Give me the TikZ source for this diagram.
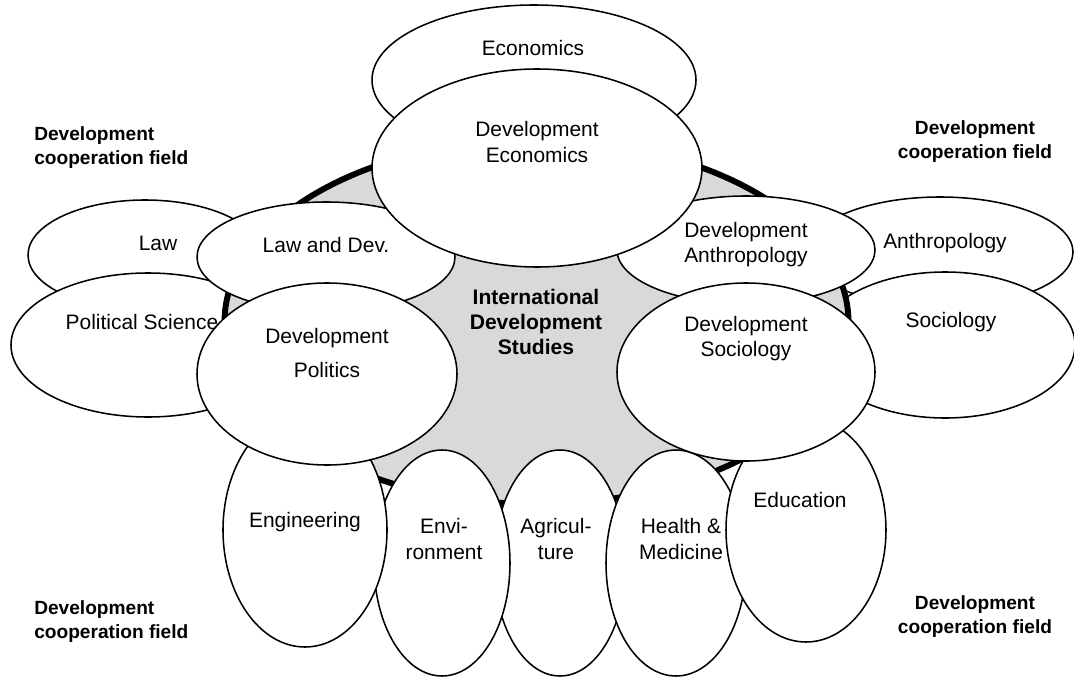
\documentclass[tikz,border=0pt]{standalone}
\usepackage{fontspec}
\setmainfont{Liberation Sans}
\tikzset{field/.style={draw=black, line width=1.1pt, fill=white}}
\tikzset{core/.style={draw=black, line width=4.2pt, fill=gray!30}}
\tikzset{lbl/.style={align=center, inner sep=0pt, font=\fontsize{14.9}{17.8}\selectfont}}
\tikzset{side/.style={align=center, inner sep=0pt, font=\bfseries\fontsize{13.6}{17}\selectfont}}

\begin{document}
\begin{tikzpicture}[x=0.025cm, y=-0.025cm]
\useasboundingbox (0,0) rectangle (1074,677);

% outer ring: the parent disciplines
\foreach \cx/\cy/\rx/\ry in {534/80/162/75, 145/255/117/55, 148/345/137/72, 940/252/133/55, 945/345/130/73}{
  \draw[field] (\cx,\cy) ellipse [x radius=\rx, y radius=\ry];
}

\draw[core] (536.5,322) ellipse [x radius=312, y radius=182];

% lower fields
\foreach \cx/\cy/\rx/\ry in {560/563/66/113, 442/563/68/113, 676/563/70/113, 806/530/80/112, 305/530/82/117}{
  \draw[field] (\cx,\cy) ellipse [x radius=\rx, y radius=\ry];
}

% development sub-disciplines
\foreach \cx/\cy/\rx/\ry in {326/257/129/55, 746/250/129/54, 537/168/165/99, 327/374/130/91, 746/372/129/89}{
  \draw[field] (\cx,\cy) ellipse [x radius=\rx, y radius=\ry];
}

\node[lbl] (econ) at (533,48) {Economics};
\node[lbl] (law) at (158,243) {Law};
\node[lbl] (polsci) at (142,322) {Political Science};
\node[lbl] (anthro) at (945,243) {Anthropology};
\node[lbl] (socio) at (951,322) {Sociology};

\node[lbl] (lawdev) at (326,245) {Law and Dev.};
\node[lbl] (devecon) at (537,142) {Development\\Economics};
\node[lbl] (devanthro) at (746,245) {Development\\Anthropology};
\node[lbl] (devpol) at (327,353) {Development\\[5.7pt]Politics};
\node[lbl] (devsoc) at (746,339) {Development\\Sociology};

\node[lbl] (eng) at (305,522) {Engineering};
\node[lbl] (env) at (444,539) {Envi-\\ronment};
\node[lbl] (agri) at (556,539) {Agricul-\\ture};
\node[lbl] (health) at (681,539) {Health \&\\Medicine};
\node[lbl] (edu) at (800,500) {Education};

\node[side, font=\bfseries\fontsize{15}{17.5}\selectfont] (ids) at (536,322) {International\\Development\\Studies};

\node[side, align=left, anchor=west] (coopTL) at (34,148) {Development\\cooperation field};
\node[side] (coopTR) at (975,142) {Development\\cooperation field};
\node[side, align=left, anchor=west] (coopBL) at (34,622) {Development\\cooperation field};
\node[side] (coopBR) at (975,617) {Development\\cooperation field};

\end{tikzpicture}
\end{document}
